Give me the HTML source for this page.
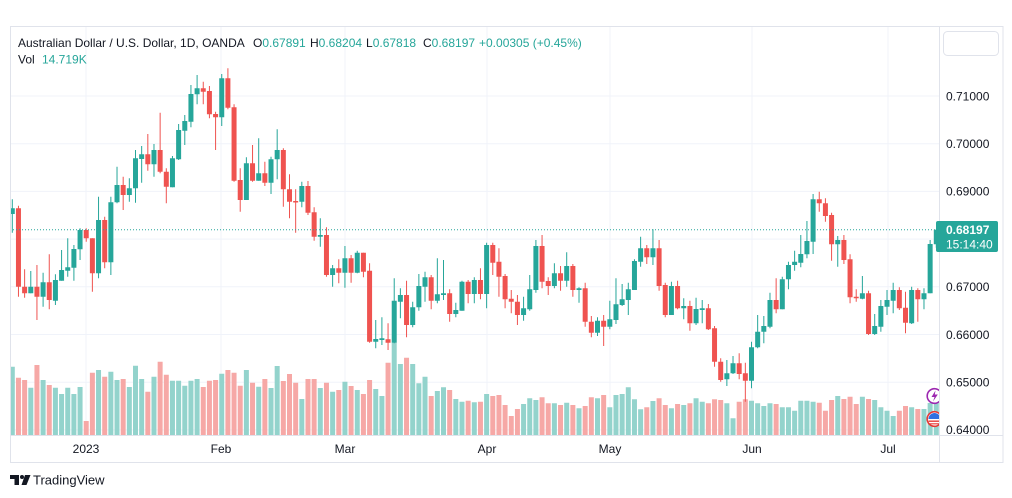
<!DOCTYPE html>
<html><head><meta charset="utf-8"><style>
html,body{margin:0;padding:0;background:#fff;}
svg{display:block;font-family:"Liberation Sans",Arial,sans-serif;}
</style></head><body>
<svg width="1012" height="498" viewBox="0 0 1012 498" xmlns="http://www.w3.org/2000/svg">
<defs><clipPath id="pane"><rect x="10.5" y="26.5" width="428.5" height="409"/></clipPath>
<clipPath id="pane2"><rect x="10.5" y="26.5" width="928.5" height="409"/></clipPath></defs>
<rect width="1012" height="498" fill="#fff"/>
<!-- grid -->
<g stroke="#f0f3fa" stroke-width="1">
<path d="M10 96H939M10 143.7H939M10 191.4H939M10 239.1H939M10 286.8H939M10 334.5H939M10 382.2H939M10 429.9H939"/>
<path d="M86 27V435M221 27V435M345 27V435M487 27V435M610 27V435M752 27V435M888 27V435"/>
</g>
<g clip-path="url(#pane2)">
<!-- volume -->
<path fill="#93d3cc" d="M9.8 366.7h5V435h-5zM28.28 387.7h5V435h-5zM40.6 380h5V435h-5zM52.92 387.7h5V435h-5zM59.08 394h5V435h-5zM65.24 387.7h5V435h-5zM71.4 394h5V435h-5zM77.56 387h5V435h-5zM96.04 370h5V435h-5zM108.36 371.7h5V435h-5zM114.52 380h5V435h-5zM126.84 387h5V435h-5zM133 365.7h5V435h-5zM139.16 379h5V435h-5zM151.48 376.7h5V435h-5zM169.96 380.7h5V435h-5zM176.12 380.7h5V435h-5zM182.28 385.7h5V435h-5zM188.44 380.7h5V435h-5zM194.6 379h5V435h-5zM219.24 373.7h5V435h-5zM243.88 370h5V435h-5zM256.2 386.7h5V435h-5zM268.52 388h5V435h-5zM274.68 366h5V435h-5zM299.32 399h5V435h-5zM317.8 388h5V435h-5zM330.12 391.7h5V435h-5zM342.44 381.7h5V435h-5zM354.76 390h5V435h-5zM373.24 389h5V435h-5zM379.4 396h5V435h-5zM391.72 342.7h5V435h-5zM397.88 364h5V435h-5zM410.2 364h5V435h-5zM416.36 383.3h5V435h-5zM422.52 376.7h5V435h-5zM434.84 391h5V435h-5zM441 387.3h5V435h-5zM453.32 399h5V435h-5zM459.48 401.7h5V435h-5zM471.8 402.3h5V435h-5zM484.12 394h5V435h-5zM521.08 404h5V435h-5zM527.24 398.3h5V435h-5zM533.4 400h5V435h-5zM551.88 403.3h5V435h-5zM564.2 402.7h5V435h-5zM576.52 408.3h5V435h-5zM595 398.3h5V435h-5zM607.32 407.3h5V435h-5zM613.48 395h5V435h-5zM619.64 394h5V435h-5zM625.8 387.3h5V435h-5zM631.96 399.3h5V435h-5zM638.12 409.3h5V435h-5zM650.44 401h5V435h-5zM668.92 408.3h5V435h-5zM681.24 405h5V435h-5zM693.56 398.3h5V435h-5zM699.72 401.7h5V435h-5zM724.36 403.3h5V435h-5zM730.52 418.3h5V435h-5zM749 400.7h5V435h-5zM755.16 403.3h5V435h-5zM761.32 406h5V435h-5zM767.48 403.3h5V435h-5zM779.8 407.3h5V435h-5zM785.96 407.3h5V435h-5zM792.12 410.7h5V435h-5zM798.28 400.7h5V435h-5zM804.44 400.7h5V435h-5zM810.6 401.7h5V435h-5zM835.24 396h5V435h-5zM859.88 396.7h5V435h-5zM872.2 400h5V435h-5zM878.36 407.3h5V435h-5zM884.52 410.7h5V435h-5zM890.68 416h5V435h-5zM909.16 407.3h5V435h-5zM921.48 409h5V435h-5zM927.64 403h5V435h-5zM933.8 403h5V435h-5z"/>
<path fill="#f6a8a6" d="M15.96 377.7h5V435h-5zM22.12 380h5V435h-5zM34.44 365h5V435h-5zM46.76 385h5V435h-5zM83.72 421h5V435h-5zM89.88 372.7h5V435h-5zM102.2 376.7h5V435h-5zM120.68 379h5V435h-5zM145.32 391.7h5V435h-5zM157.64 361.7h5V435h-5zM163.8 374.7h5V435h-5zM200.76 387h5V435h-5zM206.92 380.7h5V435h-5zM213.08 380h5V435h-5zM225.4 370h5V435h-5zM231.56 372.7h5V435h-5zM237.72 385.7h5V435h-5zM250.04 382.7h5V435h-5zM262.36 379h5V435h-5zM280.84 381h5V435h-5zM287 374h5V435h-5zM293.16 382.7h5V435h-5zM305.48 379h5V435h-5zM311.64 379h5V435h-5zM323.96 382.7h5V435h-5zM336.28 390h5V435h-5zM348.6 386h5V435h-5zM360.92 394h5V435h-5zM367.08 380h5V435h-5zM385.56 362.7h5V435h-5zM404.04 357.7h5V435h-5zM428.68 396h5V435h-5zM447.16 390h5V435h-5zM465.64 400.7h5V435h-5zM477.96 401.7h5V435h-5zM490.28 396h5V435h-5zM496.44 395h5V435h-5zM502.6 405h5V435h-5zM508.76 416h5V435h-5zM514.92 409h5V435h-5zM539.56 397.3h5V435h-5zM545.72 403.3h5V435h-5zM558.04 405h5V435h-5zM570.36 405h5V435h-5zM582.68 406h5V435h-5zM588.84 397.3h5V435h-5zM601.16 395h5V435h-5zM644.28 407.3h5V435h-5zM656.6 398.3h5V435h-5zM662.76 405h5V435h-5zM675.08 404h5V435h-5zM687.4 403.3h5V435h-5zM705.88 403.3h5V435h-5zM712.04 399.3h5V435h-5zM718.2 400h5V435h-5zM736.68 401.7h5V435h-5zM742.84 399.3h5V435h-5zM773.64 404h5V435h-5zM816.76 402.7h5V435h-5zM822.92 410.7h5V435h-5zM829.08 400h5V435h-5zM841.4 399h5V435h-5zM847.56 396.7h5V435h-5zM853.72 404h5V435h-5zM866.04 399h5V435h-5zM896.84 410.7h5V435h-5zM903 406h5V435h-5zM915.32 409h5V435h-5z"/>
<!-- wicks -->
<path fill="none" stroke="#26a69a" stroke-width="1" d="M12.3 199.3V232.7M30.78 271V293.3M43.1 272.7V306.7M55.42 274.3V305M61.58 250V280.7M67.74 238.3V276.7M73.9 245V280.7M80.06 228.3V260M98.54 196.7V278.3M110.86 196.7V275M117.02 166.7V203.3M129.34 178.3V201.7M135.5 150V202.7M141.66 146V182.7M153.98 144V176.7M172.46 156V187.3M178.62 124V160M184.78 115V145M190.94 85V127.3M197.1 75V104.3M221.74 74V126M246.38 157.3V200M258.7 138.3V180.7M271.02 156.7V194M277.18 129.3V179.3M301.82 181.7V207.3M320.3 218.3V246.7M332.62 265V286.7M344.94 246V287.7M357.26 250.7V273.3M375.74 320V348.3M381.9 317.3V345M394.22 278.3V343.3M400.38 288.3V318.3M412.7 301.7V327.3M418.86 274V310.7M425.02 271.7V301.7M437.34 258.3V303.3M443.5 260V300M455.82 302.7V317.3M461.98 280.7V310.7M474.3 277.3V303.3M486.62 242.7V308.3M523.58 296.7V320.7M529.74 275V310.7M535.9 240V292.7M554.38 263.3V288.3M566.7 252.3V286.7M579.02 287.3V302.7M597.5 317.3V336M609.82 300.7V329.3M615.98 278.3V324M622.14 284V306M628.3 282.7V315M634.46 259.3V290M640.62 236.7V266.7M652.94 229.3V265M671.42 281.7V315M683.74 298.3V319.3M696.06 297.7V325M702.22 300V323.3M726.86 360V386M733.02 356V374M751.5 341.7V388.3M757.66 315V348.3M763.82 316V343.3M769.98 292.7V328.3M782.3 276.7V309.3M788.46 261.7V289.3M794.62 250.7V270.7M800.78 235V267.3M806.94 221V258.3M813.1 194V254M837.74 236V266.7M862.38 276V299.3M874.7 314V335M880.86 300V331.7M887.02 290V315M893.18 282.7V313.3M911.66 286.7V324M923.98 288.3V309.3M930.14 240V293.3M936.3 229.4V247.8"/>
<path fill="none" stroke="#ef5350" stroke-width="1" d="M18.46 205.7V296.7M24.62 269.3V297.7M36.94 265V320M49.26 254.3V309.3M86.22 228.3V241.7M92.38 238.3V291.7M104.7 216.7V268.3M123.18 176.7V210M147.82 134V170.7M160.14 112.7V173.3M166.3 168.3V203.3M203.26 81.7V104.3M209.42 86V118.3M215.58 111.7V150M227.9 68.3V109.3M234.06 104.3V181.7M240.22 168.3V211.7M252.54 145V181.7M264.86 161.7V186M283.34 148.3V206.7M289.5 174.3V218.3M295.66 189.3V232.7M307.98 181V215M314.14 207.3V240.7M326.46 227.3V276.7M338.78 259.3V283.3M351.1 255V282.7M363.42 252.7V277.3M369.58 263.3V342.7M388.06 323.3V350M406.54 280.7V337.3M431.18 275V309.3M449.66 289.3V321.7M468.14 280V303.3M480.46 268.3V299.3M492.78 242.7V275M498.94 248.3V296.7M505.1 274V308.3M511.26 290V313.3M517.42 295V325M542.06 235V288.3M548.22 277.3V295M560.54 266V290.7M572.86 264V296.7M585.18 282.7V326.7M591.34 316V337.3M603.66 315V346M646.78 245V264M659.1 240V290.7M665.26 282.7V317.3M677.58 280.7V309.3M689.9 300.7V330.7M708.38 304V330M714.54 326V366.7M720.7 358.3V381.7M739.18 353.3V379.3M745.34 362.7V401.7M776.14 278.3V313.3M819.26 191.7V211.7M825.42 198.3V221.7M831.58 212.7V260.7M843.9 235V264M850.06 254.3V303.3M856.22 289.3V301.7M868.54 290.7V335M899.34 287.3V310M905.5 291.7V333.3M917.82 288.3V321.7"/>
<!-- bodies -->
<path fill="#26a69a" d="M9.8 208.3h5V214h-5zM28.28 286.7h5V293.3h-5zM40.6 282.3h5V296.7h-5zM52.92 280h5V300.7h-5zM59.08 270h5V280.7h-5zM65.24 267.3h5V270.7h-5zM71.4 249h5V267.7h-5zM77.56 230h5V249.3h-5zM96.04 220h5V273.3h-5zM108.36 202.3h5V262.3h-5zM114.52 185h5V202.3h-5zM126.84 188.3h5V195h-5zM133 158.3h5V188.3h-5zM139.16 154.3h5V159h-5zM151.48 150h5V164.3h-5zM169.96 158.3h5V187.3h-5zM176.12 130h5V159.3h-5zM182.28 121h5V130.7h-5zM188.44 94h5V121.7h-5zM194.6 88.3h5V94.3h-5zM219.24 78.3h5V117.3h-5zM243.88 163.3h5V200h-5zM256.2 173.3h5V180.7h-5zM268.52 159.3h5V182.7h-5zM274.68 150h5V159.3h-5zM299.32 186h5V201.7h-5zM317.8 235h5V236.7h-5zM330.12 268.3h5V275h-5zM342.44 258.3h5V272.7h-5zM354.76 252.7h5V272.7h-5zM373.24 339h5V341.7h-5zM379.4 338.3h5V340h-5zM391.72 300.7h5V342.7h-5zM397.88 295h5V301.7h-5zM410.2 307.3h5V325h-5zM416.36 286h5V307.3h-5zM422.52 277.3h5V286.7h-5zM434.84 294.3h5V300.7h-5zM441 293.3h5V295h-5zM453.32 310h5V314h-5zM459.48 281.7h5V310.7h-5zM471.8 280h5V294h-5zM484.12 245h5V294h-5zM521.08 308.3h5V315h-5zM527.24 289.3h5V309.3h-5zM533.4 246h5V290h-5zM551.88 273.3h5V286h-5zM564.2 266h5V280.7h-5zM576.52 288.3h5V290h-5zM595 320.7h5V332.7h-5zM607.32 319.3h5V326.7h-5zM613.48 304.3h5V320h-5zM619.64 299.3h5V305h-5zM625.8 289.3h5V300h-5zM631.96 261h5V290h-5zM638.12 248.3h5V261.7h-5zM650.44 248.3h5V257.3h-5zM668.92 286h5V315h-5zM681.24 306h5V308.3h-5zM693.56 309h5V323.3h-5zM699.72 308.3h5V310h-5zM724.36 373.3h5V379.3h-5zM730.52 363.3h5V373.3h-5zM749 347.3h5V380.7h-5zM755.16 331.7h5V347.3h-5zM761.32 326h5V331.7h-5zM767.48 300h5V326.7h-5zM779.8 279.3h5V309.3h-5zM785.96 265h5V279.3h-5zM792.12 261.7h5V265h-5zM798.28 254h5V262.7h-5zM804.44 241h5V254.3h-5zM810.6 199.3h5V241.7h-5zM835.24 240h5V244.3h-5zM859.88 293.3h5V298.7h-5zM872.2 326h5V334h-5zM878.36 306h5V326.7h-5zM884.52 300h5V306.7h-5zM890.68 290h5V300.7h-5zM909.16 290h5V323.3h-5zM921.48 293.3h5V299.3h-5zM927.64 244h5V293.3h-5zM933.8 229.7h5V244.3h-5z"/>
<path fill="#ef5350" d="M15.96 208.3h5V286.7h-5zM22.12 286.7h5V293.3h-5zM34.44 286.7h5V296.7h-5zM46.76 282.3h5V300h-5zM83.72 230h5V238.3h-5zM89.88 238.3h5V273.3h-5zM102.2 220h5V262.3h-5zM120.68 185h5V195h-5zM145.32 154.3h5V164.3h-5zM157.64 150h5V171.7h-5zM163.8 171.7h5V186.7h-5zM200.76 88.3h5V91.7h-5zM206.92 91h5V114.3h-5zM213.08 114h5V117.3h-5zM225.4 78.3h5V107.7h-5zM231.56 107.3h5V180.7h-5zM237.72 180h5V200h-5zM250.04 163.3h5V180.7h-5zM262.36 173.3h5V182.7h-5zM280.84 150h5V189.3h-5zM287 189.3h5V201.7h-5zM293.16 201h5V202.5h-5zM305.48 186h5V212.7h-5zM311.64 212.3h5V236.7h-5zM323.96 235h5V275h-5zM336.28 268.3h5V272.7h-5zM348.6 258.3h5V272.7h-5zM360.92 252.7h5V271.7h-5zM367.08 270.7h5V341.7h-5zM385.56 339.3h5V342.7h-5zM404.04 295h5V325h-5zM428.68 277.3h5V300.7h-5zM447.16 293.3h5V314h-5zM465.64 281.7h5V294h-5zM477.96 280h5V294h-5zM490.28 245h5V262.7h-5zM496.44 261.7h5V276.7h-5zM502.6 276h5V299.3h-5zM508.76 298.7h5V301.7h-5zM514.92 301.7h5V315h-5zM539.56 246h5V281.7h-5zM545.72 281h5V286h-5zM558.04 273.3h5V280.7h-5zM570.36 266h5V290h-5zM582.68 288.3h5V321.7h-5zM588.84 321.7h5V332.7h-5zM601.16 320.7h5V326.7h-5zM644.28 248.3h5V257.3h-5zM656.6 248.3h5V286h-5zM662.76 285h5V315h-5zM675.08 286h5V308.3h-5zM687.4 306h5V323.3h-5zM705.88 308.3h5V329.3h-5zM712.04 328.3h5V361.7h-5zM718.2 361.7h5V380h-5zM736.68 363.3h5V374h-5zM742.84 373.3h5V380.7h-5zM773.64 300h5V309.3h-5zM816.76 199.3h5V203.3h-5zM822.92 203.3h5V216h-5zM829.08 215h5V244.3h-5zM841.4 240h5V260h-5zM847.56 259.3h5V297.3h-5zM853.72 296.7h5V298.3h-5zM866.04 293.3h5V334h-5zM896.84 290h5V308.3h-5zM903 307.7h5V322.7h-5zM915.32 290h5V299.3h-5z"/>
<!-- last price line -->
<path d="M10 229.7H939" stroke="#26a69a" stroke-width="1" stroke-dasharray="1 2"/>
<!-- event icons -->
<circle cx="934.5" cy="396" r="7.3" fill="#fff" stroke="#9c27b0" stroke-width="1.6"/>
<path d="M935.5 390.5L931.5 397H934.5L933 401.5L937.8 394.5H934.8Z" fill="#9c27b0"/>
<circle cx="934.5" cy="419" r="7.3" fill="#fff" stroke="#e53935" stroke-width="1.6"/>
<path d="M928.5 419a6 6 0 0 1 12 0z" fill="#2f6fe0"/>
<path d="M928.6 420.5h11.8v1.4h-11.8zM929.5 423.2h10v1.2h-10z" fill="#e53935"/>
</g>
<!-- borders -->
<g stroke="#e0e3eb" stroke-width="1" fill="none">
<rect x="10.5" y="26.5" width="992.5" height="436"/>
<path d="M939.5 26.5V462.5M10.5 435.5H1003"/>
<rect x="943.5" y="31.5" width="55" height="24" rx="4"/>
</g>
<!-- legend -->
<text x="18" y="47" font-size="12" fill="#131722">Australian Dollar / U.S. Dollar, 1D, OANDA</text>
<text x="253" y="47" font-size="12" fill="#131722">O<tspan fill="#26a69a">0.67891</tspan></text>
<text x="310" y="47" font-size="12" fill="#131722">H<tspan fill="#26a69a">0.68204</tspan></text>
<text x="366" y="47" font-size="12" fill="#131722">L<tspan fill="#26a69a">0.67818</tspan></text>
<text x="423" y="47" font-size="12" fill="#131722">C<tspan fill="#26a69a">0.68197</tspan></text>
<text x="479" y="47" font-size="12" fill="#26a69a">+0.00305 (+0.45%)</text>
<text x="18" y="63.5" font-size="12" fill="#131722">Vol</text>
<text x="42" y="63.5" font-size="12" fill="#26a69a">14.719K</text>
<!-- price axis -->
<g font-size="12" fill="#131722">
<text x="946" y="100.3">0.71000</text>
<text x="946" y="148">0.70000</text>
<text x="946" y="195.7">0.69000</text>
<text x="946" y="291.1">0.67000</text>
<text x="946" y="338.8">0.66000</text>
<text x="946" y="386.5">0.65000</text>
<text x="946" y="434">0.64000</text>
</g>
<rect x="936" y="221" width="62" height="31" rx="2" fill="#26a69a"/>
<text x="946" y="233.8" font-size="12" font-weight="bold" fill="#fff">0.68197</text>
<text x="946" y="248.5" font-size="12" fill="#fff">15:14:40</text>
<!-- time axis -->
<g font-size="12" fill="#131722" text-anchor="middle">
<text x="86" y="453">2023</text>
<text x="221" y="453">Feb</text>
<text x="345" y="453">Mar</text>
<text x="487" y="453">Apr</text>
<text x="610" y="453">May</text>
<text x="752" y="453">Jun</text>
<text x="888" y="453">Jul</text>
</g>
<!-- footer logo -->
<g fill="#131722">
<rect x="10" y="475" width="9" height="4"/>
<rect x="14.5" y="475" width="4.5" height="10"/>
<circle cx="22" cy="477" r="2"/>
<path d="M25 475H30.5L26.5 485H21.5Z"/>
</g>
<text x="33" y="484.5" font-size="13" fill="#131722">TradingView</text>
</svg>
</body></html>
